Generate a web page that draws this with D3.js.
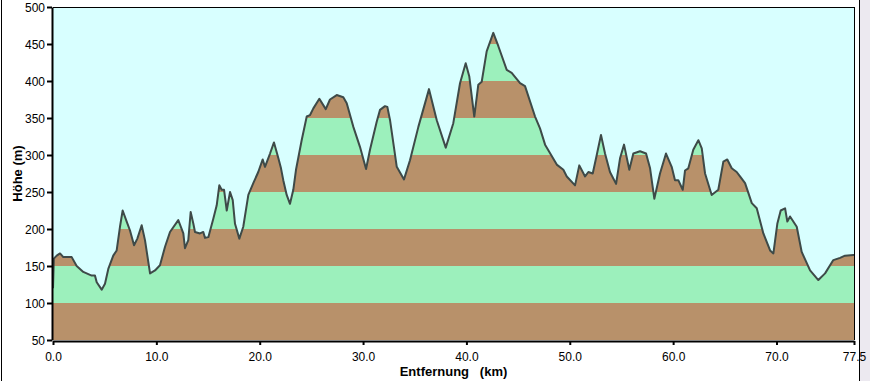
<!DOCTYPE html>
<meta charset="utf-8">
<head>
  <title>hoehenprofil</title>
</head>

<style>
body { margin: 0; background: #ffffff; }
svg { display: block; }
.tick text { font-family: "Liberation Sans", Arial, sans-serif; font-size: 12px; fill: #000; }
.title { font-family: "Liberation Sans", Arial, sans-serif; font-size: 13px; font-weight: bold; white-space: pre; }
</style>

<body>
  <svg id="chart" width="870" height="381"></svg>

  <script src="https://cdnjs.cloudflare.com/ajax/libs/d3/7.8.5/d3.min.js"></script>
  <script>

// distance along the route (km) and height (m), read from the profile
var distKm = [0, 0.08, 0.36, 0.68, 1.0, 1.81, 2.29, 2.93, 3.74, 4.06, 4.23, 4.71, 5.03, 5.35, 5.83,
  6.16, 6.48, 6.74, 7.13, 7.45, 7.84, 8.16, 8.58, 8.90, 9.39, 9.87, 10.35, 10.84, 11.32, 12.12,
  12.61, 12.77, 13.09, 13.32, 13.58, 13.74, 14.22, 14.54, 14.71, 15.03, 15.51, 15.84, 16.09, 16.32,
  16.55, 16.81, 17.13, 17.39, 17.61, 18.03, 18.41, 18.90, 19.38, 19.86, 20.29, 20.51, 21.00, 21.38,
  21.80, 22.06, 22.28, 22.61, 22.93, 23.25, 23.51, 24.06, 24.55, 24.87, 25.19, 25.77, 26.39, 26.80,
  27.45, 28.09, 28.42, 29.06, 29.70, 30.29, 30.67, 31.32, 31.64, 32.12, 32.35, 32.61, 33.26, 33.96,
  34.54, 35.35, 36.38, 37.13, 38.00, 38.73, 39.38, 39.93, 40.28, 40.76, 41.15, 41.48, 41.96, 42.60,
  43.09, 43.90, 44.38, 45.19, 45.67, 46.64, 47.12, 47.61, 48.74, 49.38, 49.71, 50.51, 50.92, 51.48,
  51.80, 52.22, 52.61, 53.02, 53.41, 53.89, 54.48, 54.87, 55.25, 55.76, 56.15, 56.80, 57.38, 57.77,
  58.18, 58.73, 59.31, 59.86, 60.18, 60.50, 60.93, 61.15, 61.47, 61.95, 62.44, 62.77, 63.09, 63.73,
  64.37, 64.86, 65.24, 65.67, 66.15, 66.47, 66.96, 67.61, 68.09, 68.73, 69.38, 69.70, 70.08, 70.41,
  70.83, 71.05, 71.31, 71.96, 72.44, 73.25, 74.05, 74.70, 75.50, 76.15, 76.63, 77.44, 77.5];

var heightM = [120, 160, 164, 167, 162, 162, 150, 142, 137, 137, 128, 118, 126, 146, 164,
  171, 203, 225, 210, 198, 178, 187, 205, 185, 140, 144, 151, 176, 196, 212,
  194, 174, 185, 223, 207, 196, 194, 196, 188, 189, 214, 232, 259, 253,
  253, 225, 250, 239, 207, 187, 203, 246, 262, 277, 294, 284, 302, 317,
  296, 282, 266, 246, 234, 253, 280, 320, 352, 354, 363, 376, 362, 375,
  381, 378, 370, 338, 311, 281, 307, 345, 361, 366, 365, 347, 284, 267,
  293, 338, 389, 347, 310, 343, 397, 424, 406, 352, 395, 399, 440, 465,
  447, 415, 411, 397, 393, 352, 336, 314, 287, 280, 271, 259, 286, 271,
  277, 275, 300, 327, 302, 277, 261, 296, 314, 280, 302, 305, 302, 282,
  241, 275, 302, 284, 266, 266, 253, 279, 282, 307, 320, 309, 275, 246,
  253, 291, 294, 282, 277, 271, 262, 235, 228, 194, 171, 167, 207, 225,
  228, 210, 217, 203, 169, 144, 131, 140, 158, 161, 164, 165, 165];

var xTicks = [0, 10, 20, 30, 40, 50, 60, 70, 77.5];
var yTicks = [50, 100, 150, 200, 250, 300, 350, 400, 450, 500];
var bandColors = ["#b8916a", "#9cf0bc"];

var svg = d3.select("#chart");

var x = d3.scaleLinear().domain([0, 77.5]).range([53, 854]);
var y = d3.scaleLinear().domain([50, 500]).range([340, 7]);

var points = distKm.map(function(d, i) { return [d, heightM[i]]; });

// window frame
svg.append("rect").attr("x", 860).attr("y", 0).attr("width", 10).attr("height", 381).style("fill", "#ece9f0");
svg.append("line").attr("x1", 859.5).attr("x2", 859.5).attr("y1", 0).attr("y2", 381).style("stroke", "#000");
svg.append("line").attr("x1", 1.5).attr("x2", 1.5).attr("y1", 0).attr("y2", 381).style("stroke", "#000");

// sky
svg.append("rect")
  .attr("x", x(0)).attr("y", y(500))
  .attr("width", x(77.5) - x(0)).attr("height", y(50) - y(500))
  .style("fill", "#d8ffff");

var area = d3.area()
  .x(function(d) { return x(d[0]); })
  .y0(y(50))
  .y1(function(d) { return y(d[1]); });

svg.append("clipPath").attr("id", "ground")
  .append("path").attr("d", area(points));

// height bands every 50 m, clipped to the ground
svg.append("g").attr("clip-path", "url(#ground)")
  .selectAll("rect")
  .data(yTicks.slice(0, -1))
  .enter()
  .append("rect")
  .attr("x", x(0))
  .attr("width", x(77.5) - x(0))
  .attr("y", function(d) { return y(d + 50); })
  .attr("height", function(d) { return y(d) - y(d + 50); })
  .style("fill", function(d, i) { return bandColors[i % 2]; });

var line = d3.line()
  .x(function(d) { return x(d[0]); })
  .y(function(d) { return y(d[1]); });

svg.append("path")
  .attr("d", line(points))
  .style("fill", "none")
  .style("stroke", "#3e4a48")
  .style("stroke-width", 2)
  .style("stroke-linejoin", "round");

// top and right border of the plot
svg.append("line").attr("x1", x(0)).attr("x2", x(77.5) + 0.5).attr("y1", y(500) + 0.5).attr("y2", y(500) + 0.5).style("stroke", "#000");
svg.append("line").attr("x1", x(77.5) + 0.5).attr("x2", x(77.5) + 0.5).attr("y1", y(500)).attr("y2", y(50)).style("stroke", "#000");

var xAxis = svg.append("g")
  .attr("transform", "translate(0," + (y(50) + 1) + ")")
  .call(d3.axisBottom(x).tickValues(xTicks).tickFormat(d3.format(".1f")).tickSize(4).tickSizeOuter(0).tickPadding(7));

var yAxis = svg.append("g")
  .attr("transform", "translate(" + (x(0) - 1) + ",0)")
  .call(d3.axisLeft(y).tickValues(yTicks).tickSize(5).tickSizeOuter(0).tickPadding(2));

[xAxis, yAxis].forEach(function(a) {
  a.select(".domain").style("stroke", "#000").style("stroke-width", 2);
  a.selectAll(".tick line").style("stroke", "#000").style("stroke-width", 2);
});
yAxis.selectAll(".tick text").attr("dy", "0.36em");

svg.append("text")
  .attr("class", "title")
  .attr("x", (x(0) + x(77.5)) / 2)
  .attr("y", 376)
  .attr("text-anchor", "middle")
  .text("Entfernung   (km)");

svg.append("text")
  .attr("class", "title")
  .attr("transform", "translate(22," + (y(50) + y(500)) / 2 + ") rotate(-90)")
  .attr("text-anchor", "middle")
  .text("Höhe (m)");

  </script>
</body>
</html>
